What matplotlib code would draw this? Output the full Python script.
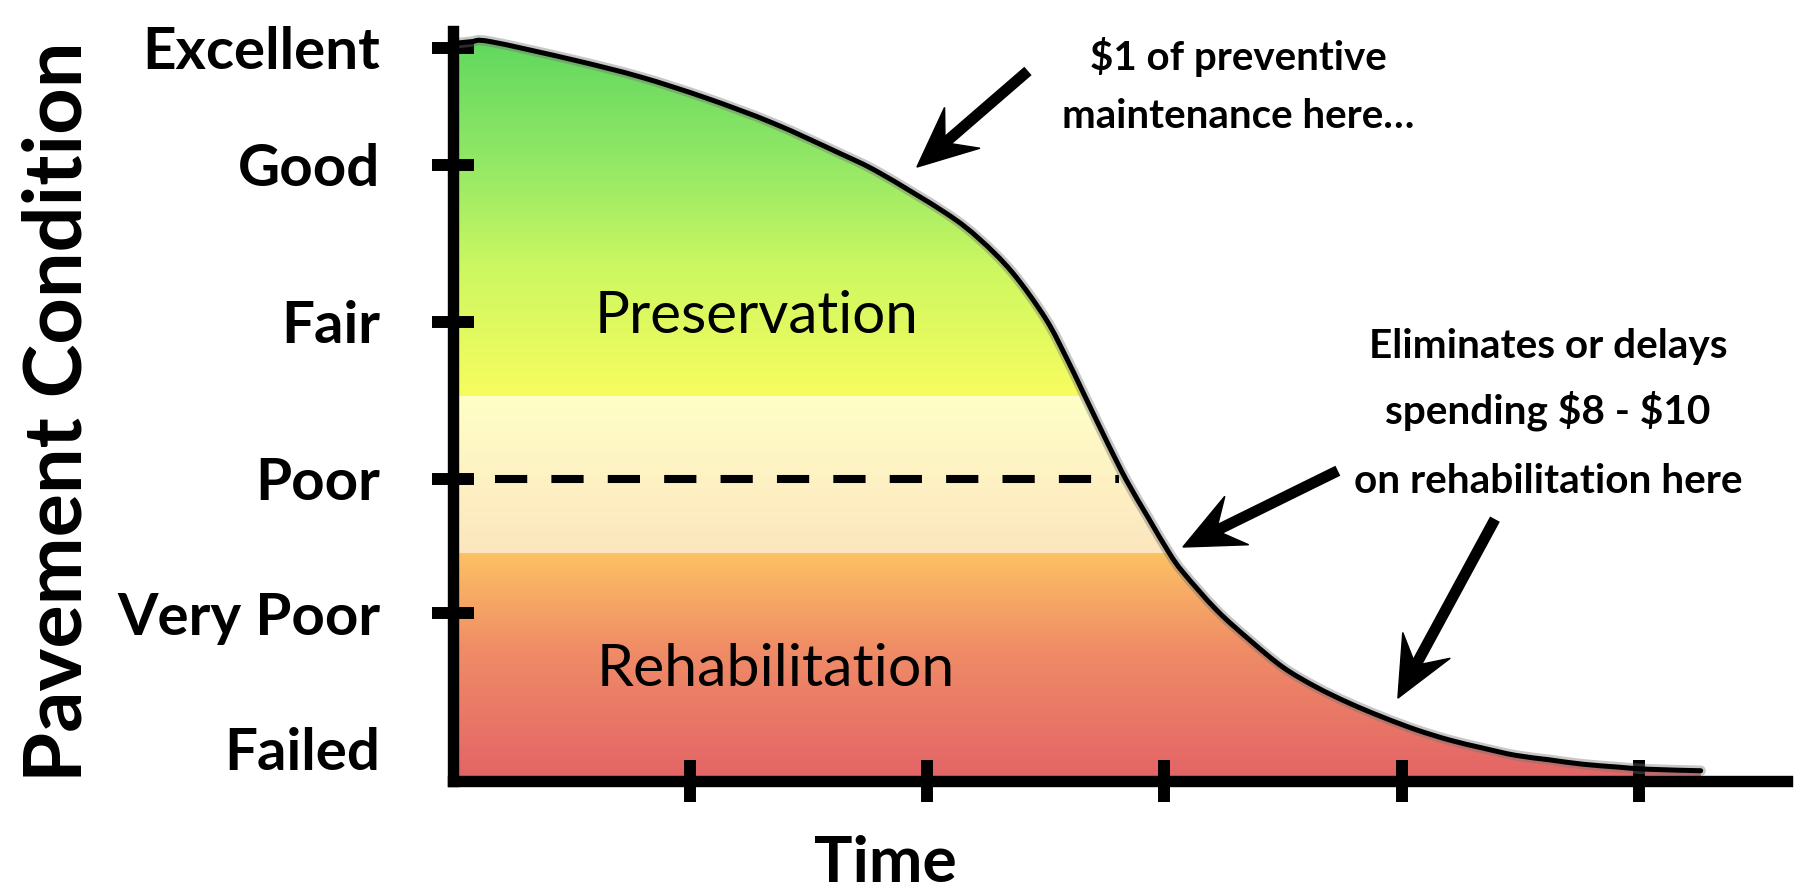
import numpy as np
import matplotlib
matplotlib.use("Agg")
import matplotlib.pyplot as plt
from matplotlib.patches import Polygon, PathPatch
from matplotlib.path import Path

plt.rcParams["font.family"] = ["Lato", "DejaVu Sans"]

# ---------------------------------------------------------------- data
# Pavement deterioration curve: service time vs. condition index (0-100)
time_pts = [0.00, 0.08, 0.16, 0.51, 0.79, 1.07, 1.35, 1.63, 1.80, 2.08,
            2.22, 2.36, 2.50, 2.59, 2.66, 2.76, 2.84, 2.93, 3.02, 3.08,
            3.22, 3.36, 3.50, 3.64, 3.78, 3.92, 4.06, 4.20, 4.34, 4.48,
            4.62, 4.76, 4.91, 5.04, 5.26]
condition_pts = [100.5, 100.8, 100.8, 98.3, 96.0, 93.1, 89.7, 85.6, 82.9, 77.4,
                 73.9, 69.3, 63.0, 57.5, 52.8, 46.1, 41.0, 36.0, 31.1, 28.4,
                 23.3, 19.2, 15.5, 12.8, 10.6, 8.7, 7.0, 5.6, 4.5, 3.5,
                 2.9, 2.3, 1.9, 1.6, 1.4]

condition_labels = ["Excellent", "Good", "Fair", "Poor", "Very Poor"]
condition_levels = [100.0, 84.0, 62.6, 41.2, 22.9]
failed_label = "Failed"
failed_level = 4.4
time_ticks = [1, 2, 3, 4, 5]

# treatment zones on the condition scale
preservation_floor = 52.4
rehab_ceiling = 31.1
poor_level = 41.2
threshold_start, threshold_end = 0.179, 2.81

# annotation arrows: (tail, tip) in (time, condition)
arrow_tails = [(2.425, 96.8), (3.731, 42.3), (4.393, 35.7)]
arrow_tips = [(1.957, 83.7), (3.078, 31.9), (3.984, 11.3)]

note_top = ["$1 of preventive", "maintenance here…"]
note_bottom = ["Eliminates or delays", "spending $8 - $10", "on rehabilitation here"]

# ---------------------------------------------------------------- layout
W, H = 1801, 892
fig = plt.figure(figsize=(W / 100, H / 100), dpi=100)
X0, Y0 = 452.5, 781.0          # axes origin in pixels
PX_T, PX_C = 237.3, 7.335      # pixels per time unit / per condition point
T_MAX, C_MAX = 5.624, 102.3
ax = fig.add_axes([X0 / W, (H - Y0) / H, T_MAX * PX_T / W, C_MAX * PX_C / H])
ax.set_xlim(0, T_MAX)
ax.set_ylim(0, C_MAX)


def smooth_path(xs, ys):
    """Catmull-Rom spline through the points, as cubic Bezier segments."""
    p = np.column_stack([xs, ys])
    ext = np.vstack([p[0], p, p[-1]])
    verts, codes = [p[0]], [Path.MOVETO]
    for i in range(len(p) - 1):
        p0, p1, p2, p3 = ext[i], ext[i + 1], ext[i + 2], ext[i + 3]
        verts += [p1 + (p2 - p0) / 6, p2 - (p3 - p1) / 6, p2]
        codes += [Path.CURVE4] * 3
    return np.array(verts), codes


curve_v, curve_c = smooth_path(time_pts, condition_pts)

# ---------------------------------------------------------------- gradient fill
green_stops = [(52.4, (0.97, 0.99, 0.37)), (70, (0.80, 0.97, 0.38)),
               (84, (0.58, 0.91, 0.40)), (102.3, (0.36, 0.84, 0.37))]
cream_stops = [(31.1, (0.99, 0.90, 0.75)), (52.4, (1.00, 1.00, 0.78))]
red_stops = [(0, (0.89, 0.39, 0.40)), (18, (0.94, 0.55, 0.40)),
             (31.1, (0.99, 0.76, 0.39))]


def ramp(y, stops):
    pos = [s[0] for s in stops]
    cols = np.array([s[1] for s in stops])
    return np.stack([np.interp(y, pos, cols[:, k]) for k in range(3)], axis=-1)


ys = np.linspace(C_MAX, 0, 2000)
rgb = np.where(ys[:, None] >= preservation_floor, ramp(ys, green_stops),
               np.where(ys[:, None] >= rehab_ceiling, ramp(ys, cream_stops),
                        ramp(ys, red_stops)))
im = ax.imshow(rgb[:, None, :], extent=[0, T_MAX, 0, C_MAX], aspect="auto",
               interpolation="nearest", zorder=0.5)
area_path = Path(np.vstack([curve_v, [[time_pts[-1], 0], [0, 0], [0, 0]]]),
                 curve_c + [Path.LINETO, Path.LINETO, Path.CLOSEPOLY])
area = PathPatch(area_path, facecolor="none", edgecolor="none")
ax.add_patch(area)
im.set_clip_path(area)

# curve with a soft halo
ax.add_patch(PathPatch(Path(curve_v, curve_c), facecolor="none", edgecolor="0.45",
                       lw=7.5, alpha=0.4, capstyle="round", zorder=3))
ax.add_patch(PathPatch(Path(curve_v, curve_c), facecolor="none", edgecolor="black",
                       lw=3.6, capstyle="round", zorder=4))

# poor threshold
ax.plot([threshold_start, threshold_end], [poor_level, poor_level],
        color="black", lw=5.8, dashes=(4, 3), dash_capstyle="butt", zorder=2)

ax.set_xlim(0, T_MAX)
ax.set_ylim(0, C_MAX)

# ---------------------------------------------------------------- axes
for s in ["top", "right"]:
    ax.spines[s].set_visible(False)
for s in ["left", "bottom"]:
    ax.spines[s].set_linewidth(8.2)
    ax.spines[s].set_capstyle("projecting")
    ax.spines[s].set_zorder(5)

ax.set_xticks(time_ticks, labels=[])
ax.set_yticks(condition_levels, labels=condition_labels)
ax.set_yticks([failed_level], labels=[failed_label], minor=True)
ax.tick_params(axis="both", which="major", direction="inout", length=30,
               width=8.6, color="black")
ax.tick_params(axis="y", which="major", pad=37)
ax.tick_params(axis="y", which="minor", length=0, pad=52)
ax.tick_params(axis="x", which="minor", bottom=False)
for lab in ax.get_yticklabels() + ax.get_yticklabels(minor=True):
    lab.set_fontweight("bold")
    lab.set_fontsize(40)

ax.set_xlabel("Time", fontsize=48, fontweight="bold")
ax.xaxis.set_label_coords(0.3241, -0.1346)
ax.xaxis.label.set_va("baseline")
ax.set_ylabel("Pavement Condition", fontsize=56, fontweight="bold")
ax.yaxis.set_label_coords(-0.2949, 0.4917)
ax.yaxis.label.set_va("center")

# zone names
t_pres = ax.text(1.283, 61.1, "Preservation", ha="center", va="baseline", fontsize=34)
t_reh = ax.text(1.363, 12.95, "Rehabilitation", ha="center", va="baseline", fontsize=34)

# notes
top_texts = [ax.text(3.310, y, s, ha="center", va="baseline", fontsize=26,
                     fontweight="bold", parse_math=False)
             for s, y in zip(note_top, [96.9, 89.0])]
bot_texts = [ax.text(4.617, y, s, ha="center", va="baseline", fontsize=26,
                     fontweight="bold", parse_math=False)
             for s, y in zip(note_bottom, [57.7, 48.7, 39.3])]

# arrows with swept-back (stealth) heads, built in pixel space
HEAD_LEN, HEAD_HALF, NOTCH = 60.0, 27.0, 0.62
to_px = ax.transData
to_data = ax.transData.inverted()
for tail, tip in zip(arrow_tails, arrow_tips):
    t0 = to_px.transform(tail)
    t1 = to_px.transform(tip)
    u = (t1 - t0) / np.hypot(*(t1 - t0))
    n = np.array([-u[1], u[0]])
    back = t1 - HEAD_LEN * u
    notch = t1 - NOTCH * HEAD_LEN * u
    head = to_data.transform([t1, back + HEAD_HALF * n, notch, back - HEAD_HALF * n])
    shaft_end = to_data.transform(notch + 4 * u)
    ax.plot([tail[0], shaft_end[0]], [tail[1], shaft_end[1]], color="black",
            lw=8, solid_capstyle="butt", zorder=6, clip_on=False)
    ax.add_patch(Polygon(head, closed=True, facecolor="black", edgecolor="black",
                         lw=1, zorder=6, clip_on=False))


# ---------------------------------------------------------------- size text to its box
def fit(texts, target, vertical=False):
    fig.canvas.draw()
    sizes = []
    for t in texts:
        bb = t.get_window_extent()
        sizes.append(bb.height if vertical else bb.width)
    scale = target / max(sizes)
    for t in texts:
        t.set_fontsize(t.get_fontsize() * scale)


fit([ax.get_yticklabels()[0]], 238)
size = ax.get_yticklabels()[0].get_fontsize()
for lab in ax.get_yticklabels() + ax.get_yticklabels(minor=True):
    lab.set_fontsize(size)
fit([ax.xaxis.label], 143)
fit([ax.yaxis.label], 741, vertical=True)
fit([t_pres], 325)
fit([t_reh], 359)
fit(top_texts, 352)
fit(bot_texts, 388)

fig.savefig("out.png", dpi=100)
